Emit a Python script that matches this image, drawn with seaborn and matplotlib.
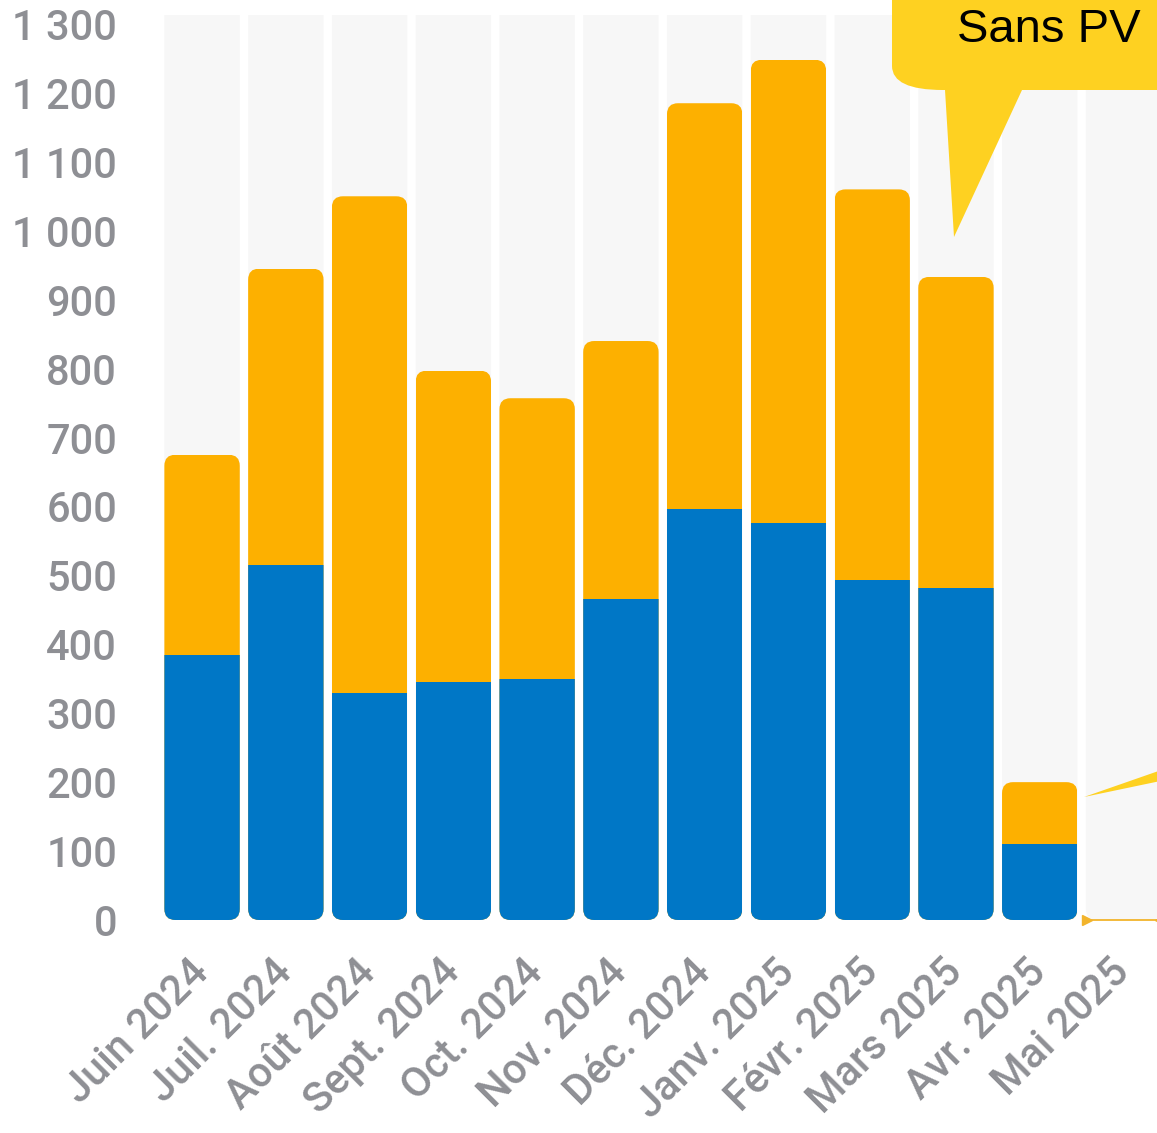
import numpy as np
import pandas as pd
import seaborn as sns
import matplotlib.pyplot as plt
from matplotlib.patches import FancyBboxPatch, PathPatch
from matplotlib.path import Path

# --- Données ---
mois = ['Juin 2024', 'Juil. 2024', 'Août 2024', 'Sept. 2024', 'Oct. 2024', 'Nov. 2024',
        'Déc. 2024', 'Janv. 2025', 'Févr. 2025', 'Mars 2025', 'Avr. 2025', 'Mai 2025']
avec_pv = [385, 515, 330, 345, 350, 465, 597, 576, 493, 482, 110, 0]
sans_pv = [290, 430, 720, 452, 407, 375, 588, 672, 567, 451, 90, 0]
graduations = list(range(0, 1301, 100))

BLEU = '#0077c6'
ORANGE = '#fdb000'
JAUNE = '#fed121'
GRIS_FOND = '#f7f7f7'
GRIS_TXT = '#8e8f94'

W, H = 1157, 1133
sns.set_style('white')
plt.rcParams['font.family'] = ['Roboto', 'DejaVu Sans']

fig = plt.figure(figsize=(W / 100, H / 100), dpi=100)
ax = fig.add_axes([156 / W, 1 - 920 / H, 1 - 156 / W, (920 - 15) / H])

df = pd.DataFrame({'mois': mois, 'avec': avec_pv, 'sans': sans_pv})
df['total'] = df['avec'] + df['sans']

# barres empilées : total (orange) puis la part "avec PV" (bleu) par-dessus
sns.barplot(data=df, x='mois', y='total', color=ORANGE, width=0.9, saturation=1,
            linewidth=0, ax=ax, zorder=2)
sns.barplot(data=df, x='mois', y='avec', color=BLEU, width=0.9, saturation=1,
            linewidth=0, ax=ax, zorder=3)

ax.set_xlim(-0.55, 11.40)
ax.set_ylim(0, 1313)

# coins arrondis : rayon en pixels converti en unités de données
bb = ax.get_window_extent()
px_x = bb.width / (11.40 + 0.55)
px_y = bb.height / 1313
r = 11 / px_x
asp = px_x / px_y
style = f'round,pad=0,rounding_size={r}'

# colonnes grises de fond
for i in range(len(mois)):
    ax.add_patch(FancyBboxPatch((i - 0.45, 0), 0.9, 1600, boxstyle=style,
                                mutation_aspect=asp, fc=GRIS_FOND, ec='none', zorder=0))

# découpe des barres selon une forme arrondie
for i, (b_o, b_b) in enumerate(zip(ax.containers[0], ax.containers[1])):
    t = df['total'][i]
    if t > 0:
        forme = FancyBboxPatch((i - 0.45, 0), 0.9, t, boxstyle=style,
                               mutation_aspect=asp, transform=ax.transData)
        b_o.set_clip_path(forme)
        b_b.set_clip_path(forme)
    else:
        ax.plot([i - 0.43, i + 0.43], [0, 0], color='#f2b42c', lw=1.3, clip_on=False, zorder=4)
        ax.plot([i - 0.43], [0], marker='>', ms=7, color='#f2b42c', clip_on=False, zorder=4)
        ax.plot([i + 0.43], [0], marker='<', ms=7, color='#f2b42c', clip_on=False, zorder=4)

ax.set_yticks(graduations)
ax.set_yticklabels([f'{v:,}'.replace(',', '\u202f') for v in graduations], fontweight='medium')
ax.set_xticks(range(len(mois)))
ax.set_xticklabels(mois, rotation=45, ha='right', va='center', rotation_mode='anchor',
                   fontweight='medium')
ax.tick_params(axis='y', length=0, pad=28, labelsize=30, labelcolor=GRIS_TXT)
ax.tick_params(axis='x', length=0, pad=33, labelsize=30, labelcolor=GRIS_TXT)
ax.set_xlabel('')
ax.set_ylabel('')
ax.grid(False)
sns.despine(ax=ax, left=True, bottom=True)


def fp(x, y):
    return (x / W, 1 - y / H)


# bulle "Sans PV"
pts = [(892, -10), (892, 66), (892, 90), (943, 90), (945, 90), (954, 237),
       (1022, 90), (1170, 90), (1170, -10), (892, -10)]
codes = [Path.MOVETO, Path.LINETO, Path.CURVE3, Path.CURVE3, Path.LINETO, Path.LINETO,
         Path.LINETO, Path.LINETO, Path.LINETO, Path.CLOSEPOLY]
fig.add_artist(PathPatch(Path([fp(*p) for p in pts], codes), transform=fig.transFigure,
                         fc=JAUNE, ec='none', zorder=5))
fig.text(957 / W, 1 - 42 / H, 'Sans PV', fontsize=34, family='Liberation Sans',
         color='black', ha='left', va='baseline', zorder=6)

# pointe d'une seconde bulle (hors cadre)
pts2 = [(1084, 797), (1170, 767), (1170, 779), (1084, 797)]
fig.add_artist(PathPatch(Path([fp(*p) for p in pts2], closed=True), transform=fig.transFigure,
                         fc=JAUNE, ec='none', zorder=5))

plt.savefig('out.png', dpi=100)
